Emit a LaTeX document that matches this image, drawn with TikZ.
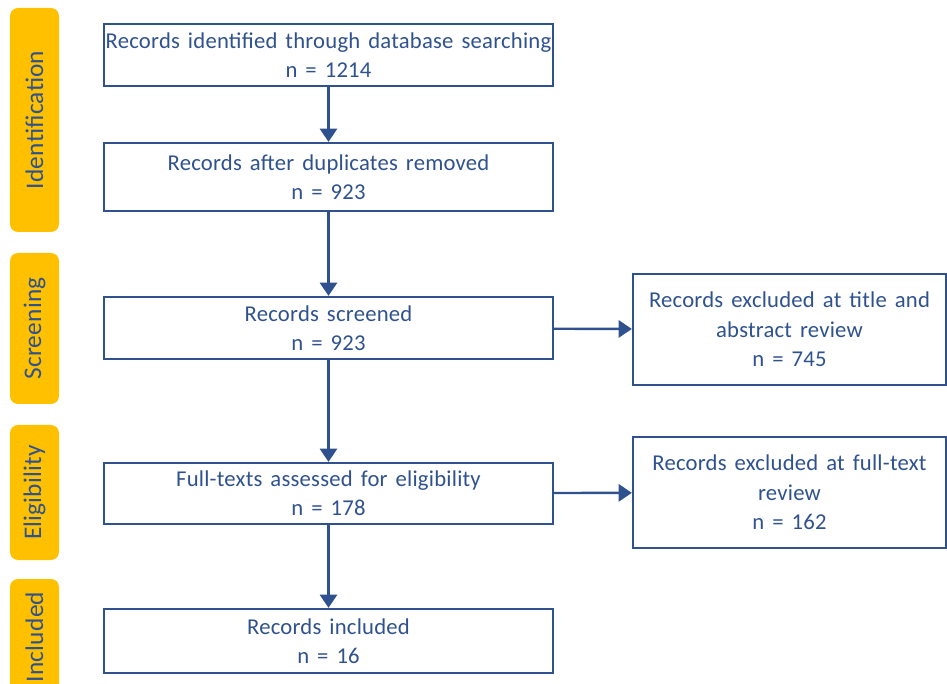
\documentclass[tikz,border=0pt]{standalone}
\usepackage{fontspec}
\setmainfont[LetterSpace=1.0, WordSpace=1.5]{Carlito}
\usetikzlibrary{arrows.meta}
\definecolor{prismablue}{HTML}{2F528F}
\definecolor{prismagold}{HTML}{FFC000}

\begin{document}
\begin{tikzpicture}[
                    x=0.75pt, y=-0.75pt,
                    every node/.style={font=\fontsize{17}{22}\selectfont, text=prismablue},
                    recbox/.style={draw=prismablue, line width=1.7pt, align=center, minimum width=336.75pt, inner sep=0pt},
                    exclbox/.style={recbox, minimum width=234.75pt, minimum height=83.25pt},
                    phase/.style={fill=prismagold, rounded corners=6pt, rotate=90, minimum height=36.75pt, font=\fontsize{19}{22}\selectfont},
                    flow/.style={draw=prismablue, line width=1.8pt, -{Triangle[length=10pt,width=13pt]}}
                ]
                    \clip (0,0) rectangle (947,684);
                    % phase tabs on the left
                    \node[phase, minimum width=168pt] (idtab) at (34.5,120) {Identification};
                    \node[phase, minimum width=113.25pt] (scrtab) at (34.5,328.5) {Screening};
                    \node[phase, minimum width=101.25pt] (eltab) at (34.5,492.5) {Eligibility};
                    \node[phase, minimum width=87pt] (inctab) at (34.5,637) {Included};
                    % main column
                    \node[recbox, minimum height=46.5pt] (ident) at (328.5,55) {Records identified through database searching\\ n = 1214};
                    \node[recbox, minimum height=51pt] (dedup) at (328.5,177) {Records after duplicates removed\\ n = 923};
                    \node[recbox, minimum height=46.5pt] (screen) at (328.5,328) {Records screened\\ n = 923};
                    \node[recbox, minimum height=45.75pt] (fulltext) at (328.5,493.5) {Full-texts assessed for eligibility\\ n = 178};
                    \node[recbox, minimum height=48pt] (incl) at (328.5,641) {Records included\\ n = 16};
                    % exclusions
                    \node[exclbox] (exabs) at (789.5,329.5) {Records excluded at title and\\ abstract review\\ n = 745};
                    \node[exclbox] (exfull) at (789.5,492.5) {Records excluded at full-text\\ review\\ n = 162};
                    \draw[flow] (ident) -- (dedup);
                    \draw[flow] (dedup) -- (screen);
                    \draw[flow] (screen) -- (fulltext);
                    \draw[flow] (fulltext) -- (incl);
                    \draw[flow] (screen) -- (exabs);
                    \draw[flow] (fulltext) -- (exfull);
                \end{tikzpicture}
\end{document}
